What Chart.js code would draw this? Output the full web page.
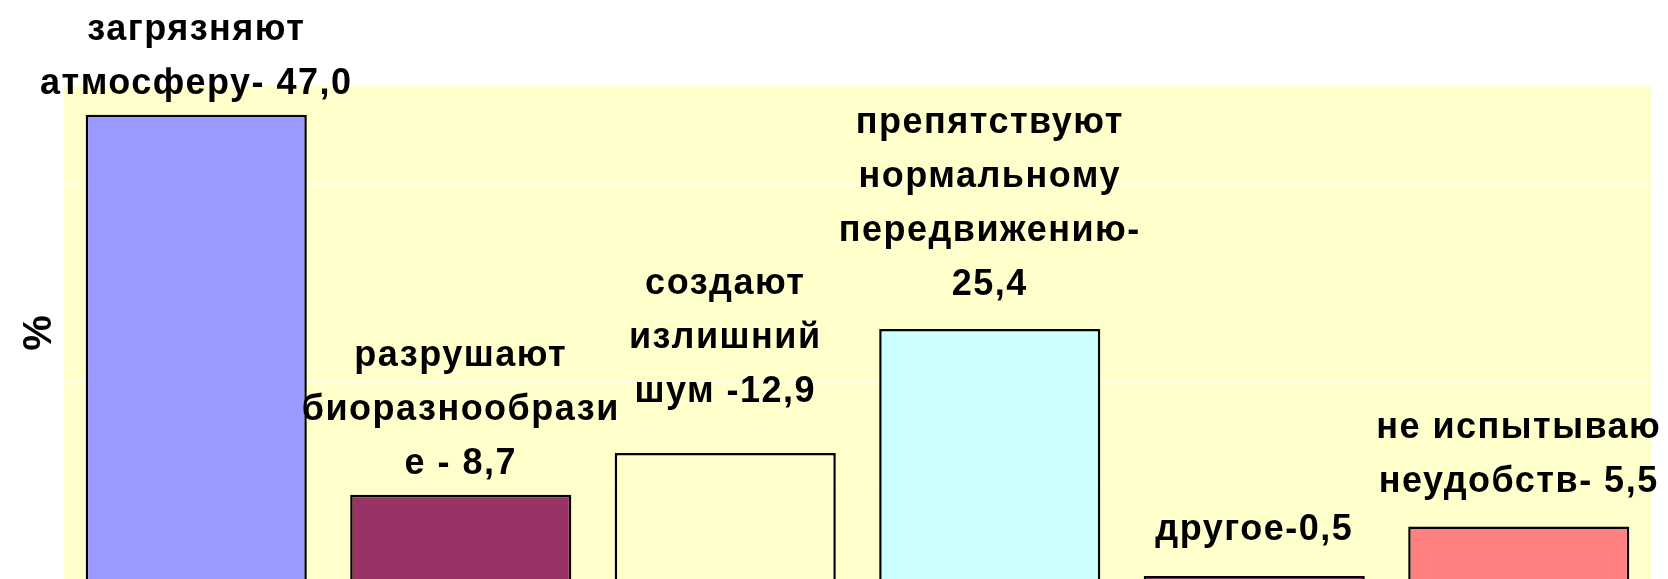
<!DOCTYPE html>
<html><head><meta charset="utf-8">
<script src="https://cdn.jsdelivr.net/npm/chart.js@4.4.0/dist/chart.umd.min.js"></script>
<style>
html,body{margin:0;padding:0;width:1668px;height:579px;overflow:hidden;background:#fff;}
#clip{width:1668px;height:579px;overflow:hidden;position:relative;}
#box{width:1668px;height:600px;position:absolute;left:0;top:0;}
</style></head><body>
<div id="clip"><div id="box"><canvas id="c"></canvas></div></div>
<script>
// ---- data ----
const categories = ['загрязняют атмосферу','разрушают биоразнообразие','создают излишний шум','препятствуют нормальному передвижению','другое','не испытываю неудобств'];
const values = [47.0, 8.7, 12.9, 25.4, 0.5, 5.5];
const labelLines = [
  ['загрязняют','атмосферу- 47,0'],
  ['разрушают','биоразнообрази','е - 8,7'],
  ['создают','излишний','шум -12,9'],
  ['препятствуют','нормальному','передвижению-','25,4'],
  ['другое-0,5'],
  ['не испытываю','неудобств- 5,5']
];
const yMin = 0, yMax = 50, yStep = 10;
const yTitle = '%';

// ---- styles ----
const barColors = ['#9999FF','#993366','#FFFFCC','#CCFFFF','#660066','#FF8080'];
const labelGaps = [21, 21, 51, 34, 36, 34]; // px between label baseline and bar top
const FONT = '"Liberation Sans", Arial, sans-serif';

const bgPlugin = {
  id: 'bg',
  beforeDraw(chart) {
    const a = chart.chartArea, ctx = chart.ctx;
    ctx.save();
    ctx.fillStyle = '#FFFFCC';
    ctx.fillRect(a.left, a.top, a.right - a.left, a.bottom - a.top);
    ctx.restore();
  }
};

const labelPlugin = {
  id: 'barLabels',
  afterDatasetsDraw(chart) {
    const ctx = chart.ctx;
    const meta = chart.getDatasetMeta(0);
    ctx.save();
    ctx.font = 'bold 36px ' + FONT;
    try { ctx.letterSpacing = '1.5px'; } catch (e) {}
    ctx.fillStyle = '#000';
    ctx.textAlign = 'center';
    ctx.textBaseline = 'alphabetic';
    meta.data.forEach((bar, i) => {
      const lines = labelLines[i];
      const base = bar.y - labelGaps[i];
      for (let k = 0; k < lines.length; k++) {
        const y = base - (lines.length - 1 - k) * 54;
        ctx.fillText(lines[k], bar.x, y);
      }
    });
    ctx.restore();
  }
};

new Chart(document.getElementById('c'), {
  type: 'bar',
  data: {
    labels: categories,
    datasets: [{
      data: values,
      backgroundColor: barColors,
      borderColor: '#000000',
      borderWidth: 2.5,
      categoryPercentage: 1,
      barPercentage: 0.836
    }]
  },
  options: {
    responsive: true,
    maintainAspectRatio: false,
    animation: false,
    layout: { padding: { top: 85, left: 0, right: 17, bottom: 19 } },
    plugins: { legend: { display: false }, tooltip: { enabled: false } },
    scales: {
      x: { display: false },
      y: {
        min: yMin, max: yMax,
        ticks: { display: false, stepSize: yStep },
        border: { display: false },
        grid: { color: '#FFFFF2', lineWidth: 1, drawTicks: false },
        title: {
          display: true, text: yTitle, color: '#000',
          font: { family: FONT, size: 40, weight: 'bold' },
          padding: { top: 16, bottom: 0 }
        }
      }
    }
  },
  plugins: [bgPlugin, labelPlugin]
});
</script>
</body></html>
